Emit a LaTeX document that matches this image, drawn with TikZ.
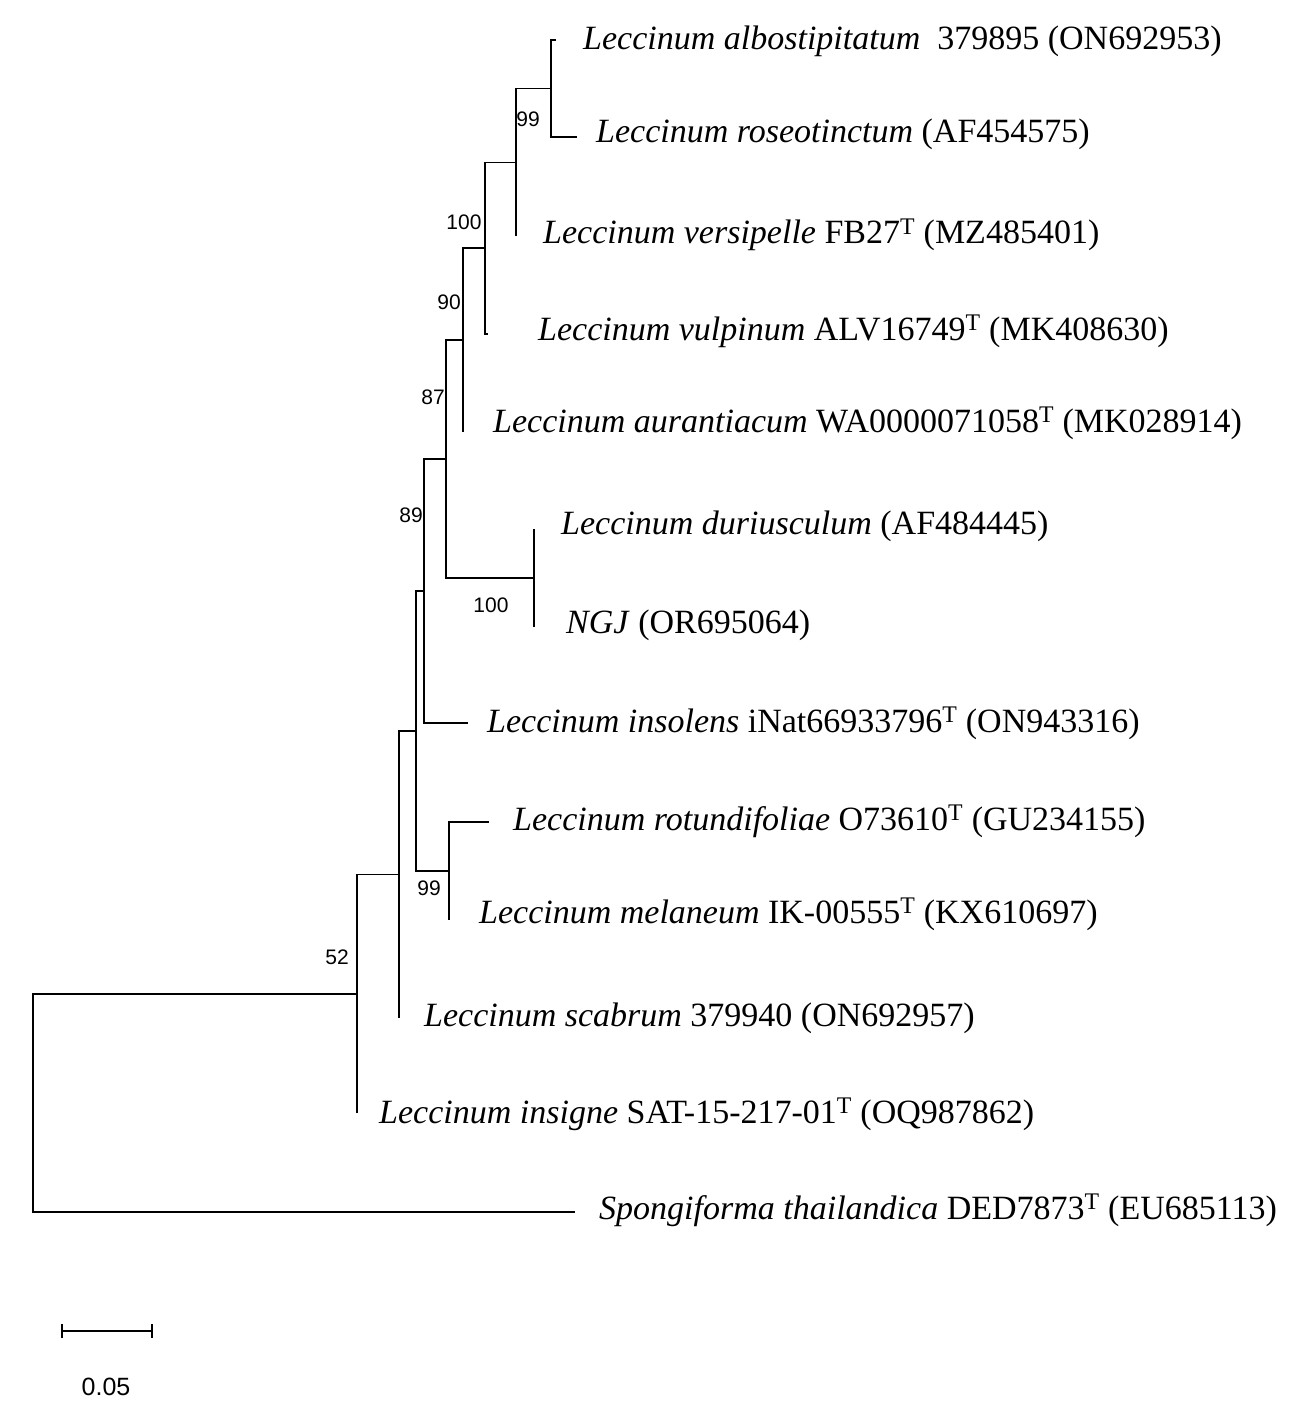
\documentclass[tikz,border=0pt]{standalone}
\usepackage{fontspec}
\setmainfont{Liberation Serif}
\newfontfamily\bsfont{Liberation Sans}
\tikzset{
  br/.style={line width=1.8pt, line join=miter},
  taxon/.style={anchor=base west, inner sep=0pt, font=\fontsize{34}{34}\selectfont},
  boot/.style={inner sep=0pt, font=\bsfont\fontsize{21}{21}\selectfont},
}
\begin{document}
\begin{tikzpicture}[x=1pt,y=-1pt]
\useasboundingbox[fill=white] (0,0) rectangle (1299,1412);
% internal nodes
\coordinate (R) at (33,1103);
\coordinate (N52) at (357,994);
\coordinate (Nsc) at (399,874.5);
\coordinate (N416) at (416,731);
\coordinate (N89) at (424,591);
\coordinate (N87) at (446,459);
\coordinate (N90) at (463,340);
\coordinate (N100) at (485,248);
\coordinate (N516) at (516,162.5);
\coordinate (N99) at (551,88.5);
\coordinate (N100b) at (534,578);
\coordinate (N99b) at (449,871);
% tips
\coordinate (Talb) at (556,40);
\coordinate (Tros) at (577,137);
\coordinate (Tver) at (516,236);
\coordinate (Tvul) at (488,334);
\coordinate (Taur) at (463,432);
\coordinate (Tdur) at (534,529);
\coordinate (Tngj) at (534,627);
\coordinate (Tins) at (468,723);
\coordinate (Trot) at (489,822);
\coordinate (Tmel) at (449,920);
\coordinate (Tsca) at (399,1018);
\coordinate (Tisg) at (357,1113);
\coordinate (Tspo) at (575,1212);
% branches
\foreach \p/\a/\b in {R/N52/Tspo, N52/Nsc/Tisg, Nsc/N416/Tsca, N416/N89/N99b,
  N99b/Trot/Tmel, N89/N87/Tins, N87/N90/N100b, N100b/Tdur/Tngj,
  N90/N100/Taur, N100/N516/Tvul, N516/N99/Tver, N99/Talb/Tros}
  \draw[br] (\a) -- (\p |- \a) -- (\p |- \b) -- (\b);
% taxon labels
\node[taxon] (Lalb) at (583,50) {\textit{Leccinum albostipitatum}\ \ 379895 (ON692953)};
\node[taxon] (Lros) at (596,143) {\textit{Leccinum roseotinctum} (AF454575)};
\node[taxon] (Lver) at (543,244) {\textit{Leccinum versipelle} FB27\textsuperscript{T} (MZ485401)};
\node[taxon] (Lvul) at (538,340) {\textit{Leccinum vulpinum} ALV16749\textsuperscript{T} (MK408630)};
\node[taxon] (Laur) at (493,432) {\textit{Leccinum aurantiacum} WA0000071058\textsuperscript{T} (MK028914)};
\node[taxon] (Ldur) at (561,534) {\textit{Leccinum duriusculum} (AF484445)};
\node[taxon] (Lngj) at (566,633) {\textit{NGJ} (OR695064)};
\node[taxon] (Lins) at (487,732) {\textit{Leccinum insolens} iNat66933796\textsuperscript{T} (ON943316)};
\node[taxon] (Lrot) at (513,830) {\textit{Leccinum rotundifoliae} O73610\textsuperscript{T} (GU234155)};
\node[taxon] (Lmel) at (479,923) {\textit{Leccinum melaneum} IK-00555\textsuperscript{T} (KX610697)};
\node[taxon] (Lsca) at (424,1026) {\textit{Leccinum scabrum} 379940 (ON692957)};
\node[taxon] (Lisg) at (379,1123) {\textit{Leccinum insigne} SAT-15-217-01\textsuperscript{T} (OQ987862)};
\node[taxon] (Lspo) at (599,1219) {\textit{Spongiforma thailandica} DED7873\textsuperscript{T} (EU685113)};
% bootstrap values
\node[boot] (b1) at (528,119) {99};
\node[boot] (b2) at (464,222) {100};
\node[boot] (b3) at (449,302) {90};
\node[boot] (b4) at (433,397) {87};
\node[boot] (b5) at (411,515) {89};
\node[boot] (b6) at (491,605) {100};
\node[boot] (b7) at (429,888) {99};
\node[boot] (b8) at (337,957) {52};
% scale bar
\coordinate (S1) at (62,1331);
\coordinate (S2) at (152,1331);
\draw[br] (S1) -- (S2);
\draw[br] (S1) ++(0,-7) -- ++(0,14);
\draw[br] (S2) ++(0,-7) -- ++(0,14);
\node[boot, font=\bsfont\fontsize{25}{25}\selectfont] (sc) at (106,1387) {0.05};
\end{tikzpicture}
\end{document}
